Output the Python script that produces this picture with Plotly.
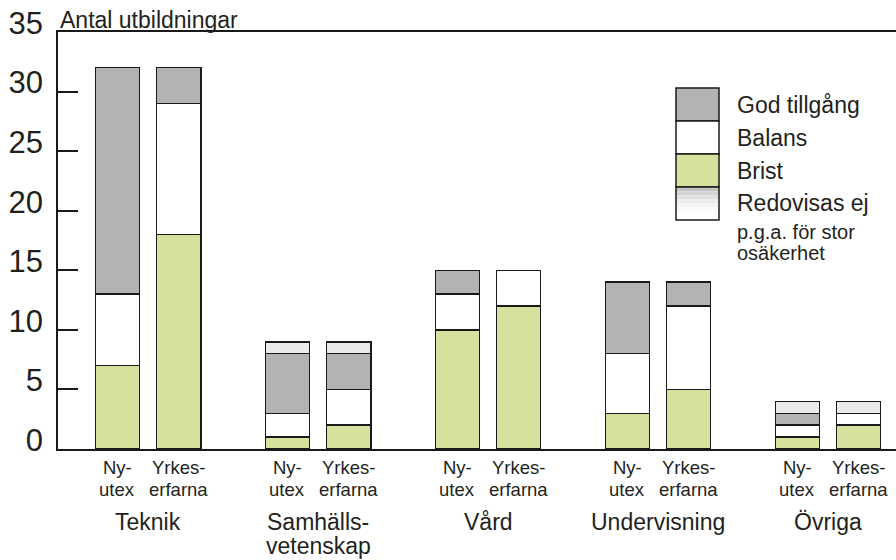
import plotly.graph_objects as go

groups = ["Teknik", "Samhälls-<br>vetenskap", "Vård", "Undervisning", "Övriga"]
subgroups = ["Ny-<br>utex", "Yrkes-<br>erfarna"]

# values per bar: order (Teknik Ny, Teknik Yrkes, Samh Ny, Samh Yrkes, ...)
brist      = [7, 18, 1, 2, 10, 12, 3, 5, 1, 2]
balans     = [6, 11, 2, 3, 3, 3, 5, 7, 1, 1]
god        = [19, 3, 5, 3, 2, 0, 6, 2, 1, 0]
redovisas  = [0, 0, 1, 1, 0, 0, 0, 0, 1, 1]

series_names = ["Brist", "Balans", "God tillgång", "Redovisas ej"]
colors = {"Brist": "#d5e29e", "Balans": "#ffffff", "God tillgång": "#b3b3b3",
          "Redovisas ej": "#e9eaeb"}
ytick_vals = [0, 5, 10, 15, 20, 25, 30, 35]

GROUP_STEP = 1.0
SUB_OFF = 0.18
BAR_W = 0.26

xpos = []
for gi in range(len(groups)):
    for si in range(len(subgroups)):
        xpos.append(gi * GROUP_STEP + (SUB_OFF if si else -SUB_OFF))

TXT = "#231f20"
FONT = "Liberation Sans, Arial, sans-serif"

fig = go.Figure()
for name, vals in zip(series_names, [brist, balans, god, redovisas]):
    fig.add_trace(go.Bar(
        x=xpos, y=[v if v else None for v in vals], width=BAR_W, name=name,
        marker=dict(color=colors[name], line=dict(color="#1a1a1a", width=1.5)),
        showlegend=False, hoverinfo="y+name"))

fig.update_layout(
    barmode="stack", width=896, height=560,
    margin=dict(l=58, r=0, t=32, b=111, autoexpand=False),
    paper_bgcolor="white", plot_bgcolor="white",
    font=dict(family=FONT, color=TXT),
    xaxis=dict(range=[-0.53, 4.40], showticklabels=False, ticks="",
               showgrid=False, zeroline=False, showline=True, mirror=True,
               linecolor="#1a1a1a", linewidth=1.5),
    yaxis=dict(range=[0, 35], tickvals=ytick_vals, ticks="inside", ticklen=20,
               tickwidth=1.5, tickcolor="#1a1a1a", showgrid=False, zeroline=False,
               showline=True, linecolor="#1a1a1a", linewidth=1.5,
               tickfont=dict(size=31, color=TXT), ticklabelstandoff=7,
               ticklabelshift=-9),
)

# axis title
fig.add_annotation(text="Antal utbildningar", xref="paper", yref="paper",
                   x=0, y=1, xanchor="left", yanchor="bottom", yshift=-3,
                   showarrow=False, font=dict(size=23, color=TXT))

# x labels
for i, x in enumerate(xpos):
    lines = subgroups[i % 2].split("<br>")
    for li, t in enumerate(lines):
        fig.add_annotation(text=t, x=x, xref="x", y=0, yref="paper",
                           yanchor="middle", yshift=-18 - 22 * li,
                           showarrow=False, font=dict(size=18.5, color=TXT))
for gi, g in enumerate(groups):
    for li, t in enumerate(g.split("<br>")):
        fig.add_annotation(text=t, x=gi * GROUP_STEP, xref="x", y=0, yref="paper",
                           yanchor="middle", yshift=-73 - 24 * li,
                           showarrow=False, font=dict(size=23, color=TXT))

# legend (manual, pixel positions converted to paper coords)
PW, PH = 896 - 58, 560 - 32 - 111
def px(xp):
    return (xp - 58) / PW
def py(yp):
    return (560 - 111 - yp) / PH

leg = [("God tillgång", 88, 121), ("Balans", 121, 154), ("Brist", 154, 187)]
for name, y0, y1 in leg:
    fig.add_shape(type="rect", xref="paper", yref="paper", x0=px(676), x1=px(719),
                  y0=py(y1), y1=py(y0), fillcolor=colors[name],
                  line=dict(color="#1a1a1a", width=1.5))
    fig.add_annotation(text=name, xref="paper", yref="paper", x=px(735),
                       y=py((y0 + y1) / 2), xanchor="left", yanchor="middle",
                       showarrow=False, font=dict(size=23, color=TXT))
# gradient swatch
grad = ["#c4c4c4", "#d4d4d4", "#e2e2e2", "#ececec", "#f4f4f4", "#fafafa", "#ffffff", "#ffffff"]
gy0, gy1 = 187, 220
step = (gy1 - gy0) / len(grad)
for k, c in enumerate(grad):
    fig.add_shape(type="rect", xref="paper", yref="paper", x0=px(676), x1=px(719),
                  y0=py(gy0 + (k + 1) * step), y1=py(gy0 + k * step),
                  fillcolor=c, line=dict(width=0), layer="above")
fig.add_shape(type="rect", xref="paper", yref="paper", x0=px(676), x1=px(719),
              y0=py(gy1), y1=py(gy0), line=dict(color="#1a1a1a", width=1.5))
fig.add_annotation(text="Redovisas ej", xref="paper", yref="paper", x=px(735),
                   y=py(203), xanchor="left", yanchor="middle",
                   showarrow=False, font=dict(size=23, color=TXT))
for t, yy in [("p.g.a. för stor", 232), ("osäkerhet", 253)]:
    fig.add_annotation(text=t, xref="paper", yref="paper", x=px(735),
                       y=py(yy), xanchor="left", yanchor="middle",
                       showarrow=False, font=dict(size=20, color=TXT))

fig.write_html("out.html", config={"displayModeBar": False},
               post_script="document.body.style.margin='0';")
